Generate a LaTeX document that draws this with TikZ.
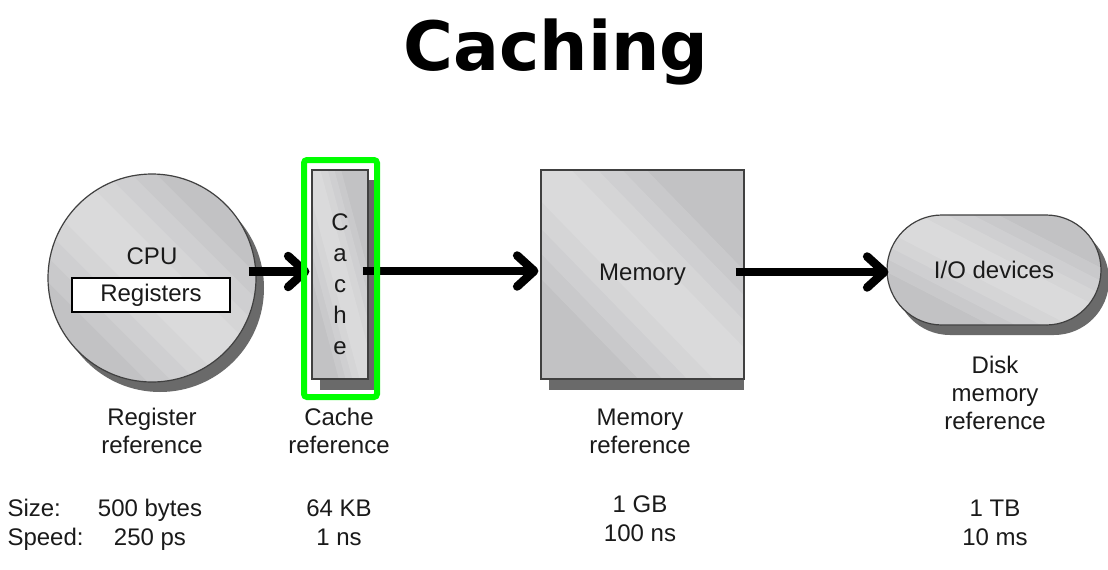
\documentclass[tikz,border=0pt]{standalone}
\usepackage{fontspec}
\setmainfont{Liberation Sans}
\newfontfamily\titlefont{DejaVu Sans}
\usepackage{tikz}
\usetikzlibrary{arrows.meta}
\usetikzlibrary{shapes.misc}
\usetikzlibrary{calc}
\definecolor{shadowgray}{HTML}{6A6A6A}
\definecolor{hiliteGreen}{HTML}{00FF00}
\definecolor{inkgray}{HTML}{1A1A1A}
\definecolor{metalBase}{HTML}{C2C2C4}

\begin{document}
\begin{tikzpicture}[x=1pt,y=-1pt,
  every node/.style={font=\fontsize{24}{28}\selectfont, text=inkgray},
  sheen/.style={fill=white, opacity=.13},
  metal/.style={draw=black!75, line width=1.2pt, fill=metalBase,
    path picture={
      \coordinate (nw) at (path picture bounding box.north west);
      \coordinate (ne) at (path picture bounding box.north east);
      \coordinate (sw) at (path picture bounding box.south west);
      \coordinate (se) at (path picture bounding box.south east);
      % soft sheen along the diagonal, built up in layers
      \fill[sheen] ($(nw)!.52!(ne)$) -- ($(se)!.52!(ne)$) -- (se) -- ($(se)!.52!(sw)$) -- ($(nw)!.52!(sw)$) -- (nw) -- cycle;
      \fill[sheen] ($(nw)!.40!(ne)$) -- ($(se)!.40!(ne)$) -- (se) -- ($(se)!.40!(sw)$) -- ($(nw)!.40!(sw)$) -- (nw) -- cycle;
      \fill[sheen] ($(nw)!.28!(ne)$) -- ($(se)!.28!(ne)$) -- (se) -- ($(se)!.28!(sw)$) -- ($(nw)!.28!(sw)$) -- (nw) -- cycle;
      \fill[sheen] ($(nw)!.15!(ne)$) -- ($(se)!.15!(ne)$) -- (se) -- ($(se)!.15!(sw)$) -- ($(nw)!.15!(sw)$) -- (nw) -- cycle;
    }},
  backing/.style={fill=shadowgray, draw=none},
  bigarrow/.style={line width=8.5pt, -{Straight Barb[length=17pt,width=31pt,round]}}]
\useasboundingbox (0,0) rectangle (1108,570);
\fill[white] (0,0) rectangle (1108,570);
\node[anchor=base, text=black, font=\titlefont\fontsize{68}{72}\bfseries\selectfont] (title) at (556,70) {Caching};
% shadows behind the four levels
\fill[backing] (160,288) circle (104pt);
\fill[backing] (320,180) rectangle (376,390);
\fill[backing] (549,181) rectangle (744,390);
\fill[backing, rounded corners=55pt] (895,225) rectangle (1109,335);
% the four levels
\node[circle, metal, minimum size=208pt, inner sep=0pt] (cpu) at (152,278) {};
\node (cpuname) at (152,256) {CPU};
\node[draw=black, line width=1.2pt, fill=white, minimum width=158pt, minimum height=34pt, inner sep=0pt] (regs) at (151,295) {Registers};
\node[rectangle, metal, minimum width=56pt, minimum height=209pt, inner sep=0pt] (cache) at (340,274.5) {};
\node[align=center, font=\fontsize{24}{31}\selectfont] (cacheword) at (340,284) {C\\a\\c\\h\\e};
\node[rectangle, metal, minimum width=203pt, minimum height=209pt, inner sep=0pt] (mem) at (642.5,274.5) {Memory};
\node[rounded rectangle, metal, minimum width=214pt, minimum height=110pt, inner sep=0pt] (io) at (994,270) {I/O devices};
% arrows
\draw[bigarrow] ($(cpu.east)+(-8,-6.5)$) -- ($(cache.west)+(-2,-3)$);
\draw[bigarrow] ($(cache.east)+(-6,-3.5)$) -- ($(mem.west)+(-2,-3.5)$);
\draw[bigarrow] ($(mem.east)+(-9,-2.5)$) -- ($(io.west)+(2,2)$);
\node[draw=hiliteGreen, line width=6pt, rounded corners=3pt, minimum width=73pt, minimum height=237pt] (hilite) at (340.5,278.5) {};
% labels
\node[align=center] (cpuref) at (152,431) {Register\\reference};
\node[align=center] (cacheref) at (339,431) {Cache\\reference};
\node[align=center] (memref) at (640,431) {Memory\\reference};
\node[align=center] (ioref) at (995,393) {Disk\\memory\\reference};
% size and speed
\node[anchor=base west] (sizehd) at (4,516) {Size:};
\node[anchor=base west] (speedhd) at (4,545) {Speed:};
\node[anchor=base] (cpusize) at (150,516) {500 bytes};
\node[anchor=base] (cpuspeed) at (150,545) {250 ps};
\node[anchor=base] (cachesize) at (339,516) {64 KB};
\node[anchor=base] (cachespeed) at (339,545) {1 ns};
\node[anchor=base] (memsize) at (640,512) {1 GB};
\node[anchor=base] (memspeed) at (640,541) {100 ns};
\node[anchor=base] (iosize) at (995,516) {1 TB};
\node[anchor=base] (iospeed) at (995,545) {10 ms};
\end{tikzpicture}
\end{document}
